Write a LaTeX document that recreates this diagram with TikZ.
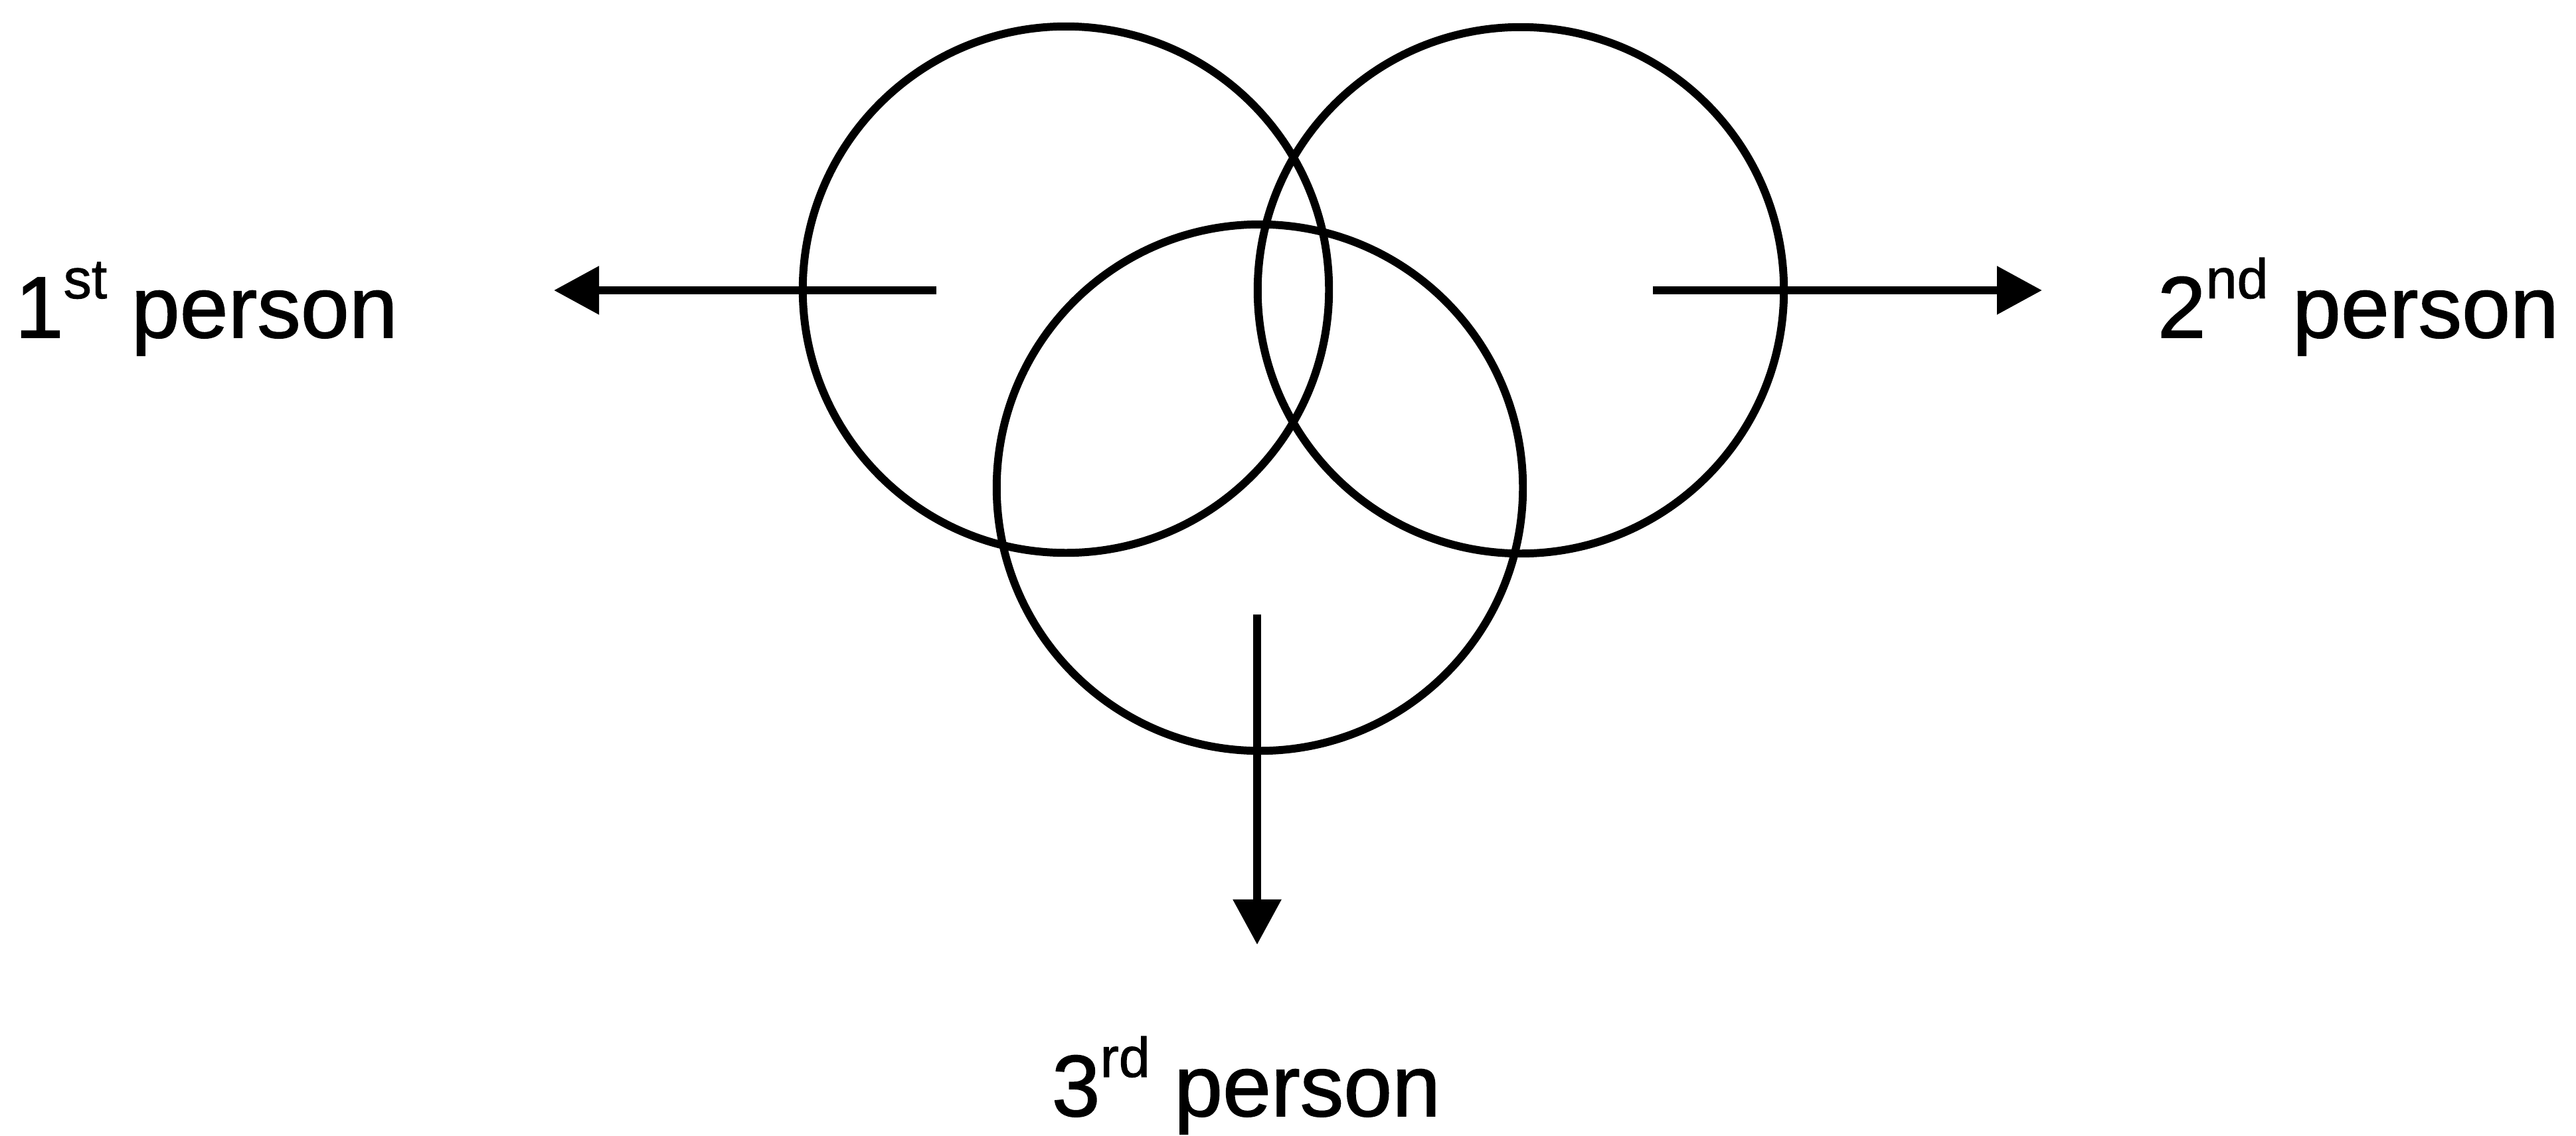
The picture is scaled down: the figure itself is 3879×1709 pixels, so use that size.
\documentclass[tikz,border=0pt]{standalone}
\usepackage{fontspec}
\setmainfont[FakeBold=1.2]{Liberation Sans}
\usetikzlibrary{arrows.meta}
\newcommand\ordsup[1]{\raisebox{0.45em}{\fontsize{24}{24}\selectfont #1}}
\begin{document}
\begin{tikzpicture}[x=0.01cm,y=-0.01cm,
  ring/.style={draw, circle, line width=3.4pt, inner sep=0pt, outer sep=0pt, minimum size=7.92cm},
  pointer/.style={line width=3.5pt, -{Triangle[length=0.68cm,width=0.70cm]}},
  lbl/.style={font=\fontsize{37.3}{40}\selectfont, inner sep=0pt, anchor=base west}]
\useasboundingbox (0,0) rectangle (3879,1709);
\node[ring] (first) at (1605,436) {};
\node[ring] (second) at (2290,437) {};
\node[ring] (third) at (1897,734) {};
\coordinate (s1) at (1410,437);
\coordinate (e1) at (834,437);
\coordinate (s2) at (2489,437);
\coordinate (e2) at (3075,437);
\coordinate (s3) at (1893,925);
\coordinate (e3) at (1893,1422);
\draw[pointer] (s1) -- (e1);
\draw[pointer] (s2) -- (e2);
\draw[pointer] (s3) -- (e3);
\node[lbl] (l1) at (22,508) {1\ordsup{st} person};
\node[lbl] (l2) at (3248,508) {2\ordsup{nd} person};
\node[lbl] (l3) at (1583,1680) {3\ordsup{rd} person};
\end{tikzpicture}
\end{document}
